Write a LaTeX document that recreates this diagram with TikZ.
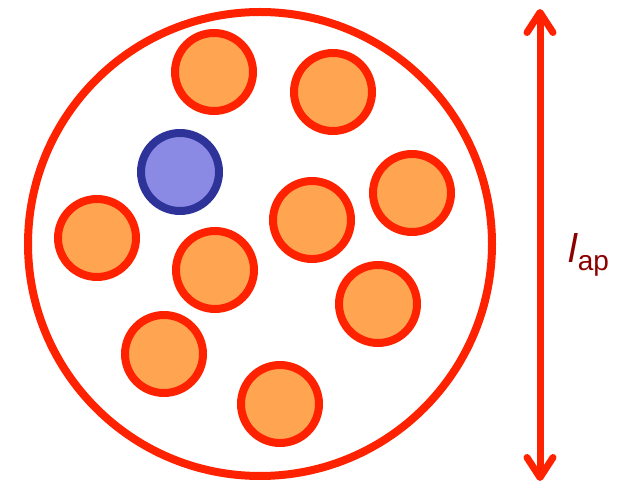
\documentclass[tikz,border=0pt]{standalone}
\usepackage{fontspec}
\setmainfont{Liberation Sans}
\usepackage{tikz,xcolor}
\usetikzlibrary{arrows.meta}
\definecolor{pred}{RGB}{255,34,0}
\definecolor{porange}{RGB}{255,165,82}
\definecolor{pblue}{RGB}{138,138,228}
\definecolor{pdblue}{RGB}{46,51,153}
\definecolor{plabel}{RGB}{140,0,0}

\begin{document}
\begin{tikzpicture}[x=1pt, y=-1pt]
						% Define style for nodes
						\tikzstyle{every node}=[circle, draw=pred, fill=porange, inner sep=0pt, minimum size=78pt, line width=8pt]
						\useasboundingbox (0,0) rectangle (619,486);
						
						\begin{scope}
							\node[fill=none, minimum size=464pt] (cell) at (260,244) {};
							
							\node (p1) at (214,72) {};
							\node (p2) at (333,92) {};
							\node (p4) at (97,238) {};
							\node (p5) at (312,220) {};
							\node (p6) at (412,193) {};
							\node (p7) at (215,270) {};
							\node (p8) at (378,304) {};
							\node (p9) at (164,354) {};
							\node (p10) at (280,404) {};
							
							\node[draw=pdblue, fill=pblue] (b1) at (180,172) {};
						\end{scope}
						
						\begin{scope}
							\coordinate (top) at (540,9);
							\coordinate (bot) at (540,481);
							\draw[pred, line width=7pt, {Straight Barb[length=20pt, width=26pt, round]}-{Straight Barb[length=20pt, width=26pt, round]}] (top) -- (bot);
							
							\node[draw=none, fill=none, rectangle, minimum size=0pt, text=plabel] (lap) at (589,255) {{\fontsize{40}{44}\selectfont\itshape l}{\fontsize{28}{32}\selectfont\raisebox{-8pt}{ap}}};
						\end{scope}
						
					\end{tikzpicture}
\end{document}
